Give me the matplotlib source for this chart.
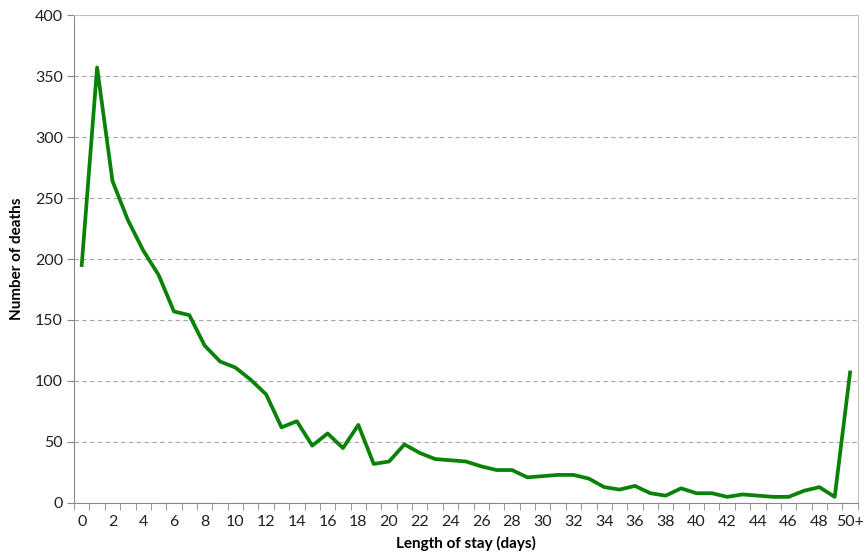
import numpy as np
import matplotlib.pyplot as plt

# length of stay categories: 0..49 days plus "50+"
stay_labels = [str(d) for d in range(50)] + ["50+"]
deaths = [195, 357, 264, 232, 207, 187, 157, 154, 129, 116,
          111, 101, 89, 62, 67, 47, 57, 45, 64, 32,
          34, 48, 41, 36, 35, 34, 30, 27, 27, 21,
          22, 23, 23, 20, 13, 11, 14, 8, 6, 12,
          8, 8, 5, 7, 6, 5, 5, 10, 13, 5,
          107]
y_ticks = [0, 50, 100, 150, 200, 250, 300, 350, 400]

plt.rcParams["font.family"] = ["Lato", "DejaVu Sans"]

fig = plt.figure(figsize=(8.66, 5.57), dpi=100)
ax = fig.add_axes([0.0855, 0.097, 0.905, 0.876])

x = np.arange(len(deaths))
ax.plot(x, deaths, color="#0a820a", linewidth=2.7)

ax.set_xlim(-0.5, len(deaths) - 0.5)
ax.set_ylim(0, 400)

# y axis
ax.set_yticks(y_ticks)
ax.yaxis.grid(True, linestyle=(0, (4, 3)), color="#a6a6a6", linewidth=0.8)
ax.tick_params(axis="y", direction="out", length=5, color="#888888",
               labelsize=11.5, labelcolor="#222222", pad=3)

# x axis: labels on even categories, tick marks between categories
ax.set_xticks(x[::2])
ax.set_xticklabels(stay_labels[::2])
ax.set_xticks(np.arange(-0.5, len(deaths), 1.0), minor=True)
ax.tick_params(axis="x", which="major", length=0, labelsize=11.5,
               labelcolor="#222222", pad=9)
ax.tick_params(axis="x", which="minor", direction="out", length=5,
               color="#888888")

for side in ["left", "bottom"]:
    ax.spines[side].set_color("#888888")
for side in ["top", "right"]:
    ax.spines[side].set_color("#c0c0c0")

ax.set_axisbelow(True)
ax.set_xlabel("Length of stay (days)", fontsize=11, fontweight="bold",
              labelpad=5)
ax.set_ylabel("Number of deaths", fontsize=11, fontweight="bold",
              labelpad=8)

fig.savefig("out.png", dpi=100)
